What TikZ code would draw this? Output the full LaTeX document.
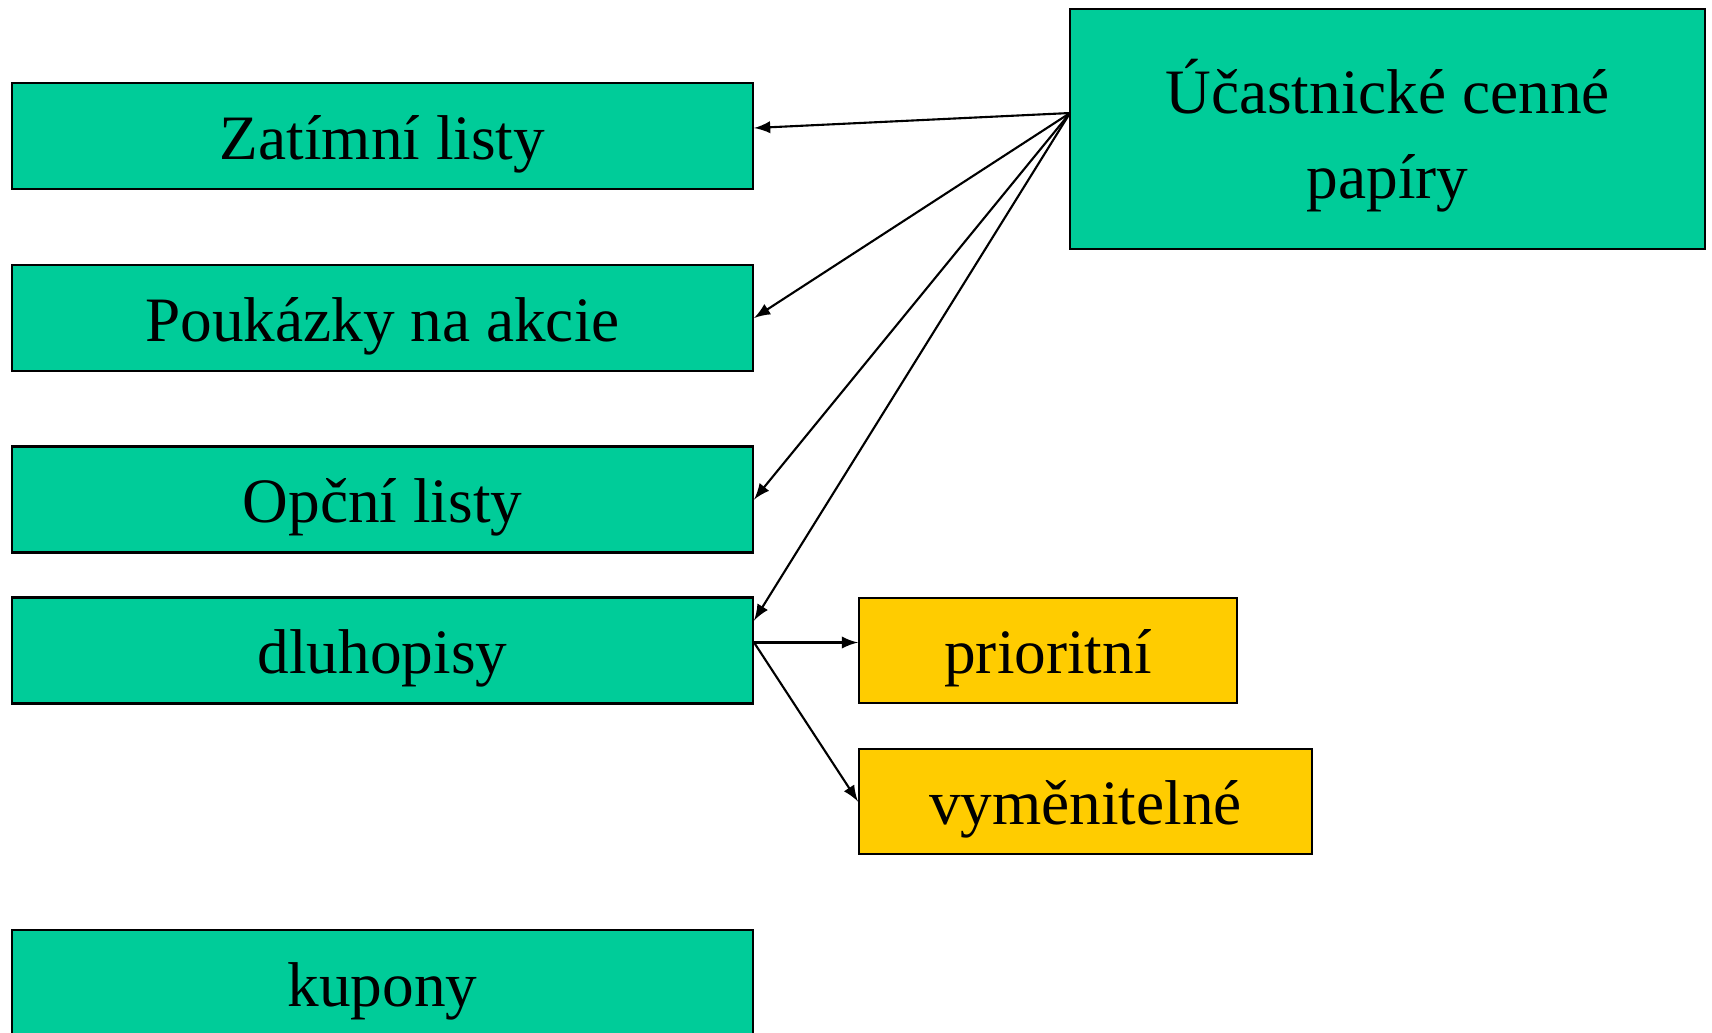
\documentclass[tikz,border=0pt]{standalone}
\usepackage{fontspec}
\setmainfont{Liberation Serif}
\usepackage{tikz}
\usetikzlibrary{arrows}
\definecolor{boxgreen}{RGB}{0,204,153}
\definecolor{boxyellow}{RGB}{255,204,0}

\tikzset{
    paperbox/.style={draw, line width=0.6pt, inner sep=0pt, font=\fontsize{18}{24}\selectfont},
    oneline/.style={text height=15.3pt, text depth=2pt},
    greenbox/.style={paperbox, oneline, fill=boxgreen, minimum width=7.41cm, minimum height=1.06cm},
    yellowbox/.style={paperbox, oneline, fill=boxyellow, minimum height=1.05cm},
    link/.style={-latex, line width=0.6pt}
}

\begin{document}
\begin{tikzpicture}

        % Fix the page size
        \useasboundingbox (0,0) rectangle (17.12,-10.32);

        % The main box on the right
        \node[paperbox, fill=boxgreen, align=center, text height=43.4pt, text depth=4pt, minimum width=6.35cm, minimum height=2.4cm] (uc) at (13.875,-1.29) {Účastnické cenné\\papíry};
        \coordinate (src) at (10.70,-1.13);

        % The boxes on the left
        \node[greenbox] (zat) at (3.825,-1.36) {Zatímní listy};
        \node[greenbox] (pouk) at (3.825,-3.18) {Poukázky na akcie};
        \node[greenbox] (opc) at (3.825,-4.995) {Opční listy};
        \node[greenbox] (dluh) at (3.825,-6.505) {dluhopisy};
        \node[greenbox] (kup) at (3.825,-9.83) {kupony};

        % Kinds of bonds
        \node[yellowbox, minimum width=3.78cm] (prio) at (10.48,-6.505) {prioritní};
        \node[yellowbox, minimum width=4.53cm] (vym) at (10.855,-8.015) {vyměnitelné};

        % Arrows
        \draw[link] (src) -- ([yshift=0.08cm]zat.east);
        \draw[link] (src) -- (pouk.east);
        \draw[link] (src) -- (opc.east);
        \draw[link] (src) -- ([yshift=0.3cm]dluh.east);
        \draw[link] ([yshift=0.08cm]dluh.east) -- ([yshift=0.08cm]prio.west);
        \draw[link] ([yshift=0.08cm]dluh.east) -- (vym.west);

\end{tikzpicture}
\end{document}
